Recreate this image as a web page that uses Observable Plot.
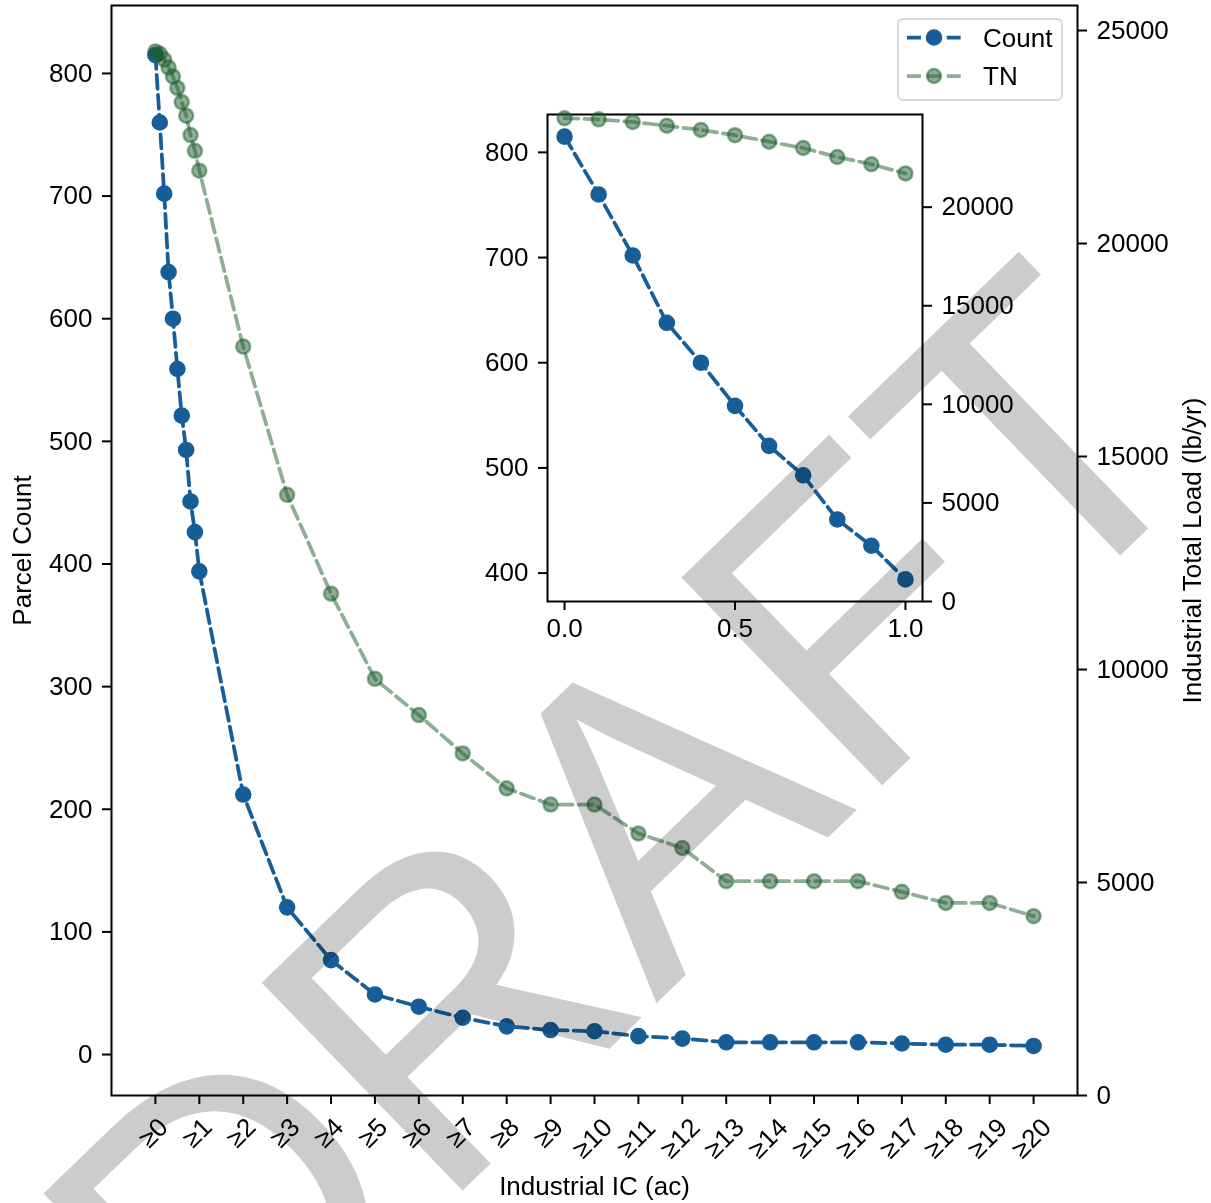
<!DOCTYPE html>
<html>
<head>
<meta charset="utf-8">
<script src="https://cdn.jsdelivr.net/npm/d3@7"></script>
<script src="https://cdn.jsdelivr.net/npm/@observablehq/plot@0.6"></script>
<style>
html, body { margin: 0; padding: 0; background: #fff; }
#chart { position: relative; width: 1211px; height: 1203px; overflow: hidden; background: #fff; isolation: isolate; font-family: "Liberation Sans", Arial, sans-serif; }
#chart > svg, #chart > div.layer { position: absolute; left: 0; top: 0; }
</style>
</head>
<body>
<div id="chart"></div>
<script>
// ---- data ----
const icThresholds = [0, 0.1, 0.2, 0.3, 0.4, 0.5, 0.6, 0.7, 0.8, 0.9, 1.0,
  2, 3, 4, 5, 6, 7, 8, 9, 10, 11, 12, 13, 14, 15, 16, 17, 18, 19, 20];
const parcelCount = [815, 760, 702, 638, 600, 559, 521, 493, 451, 426, 394,
  212, 120, 77, 49, 39, 30, 23, 20, 19, 15, 13, 10, 10, 10, 10, 9, 8, 8, 7];
const tnLoad = [24510, 24455, 24320, 24130, 23920, 23650, 23320, 23000, 22545, 22175, 21710,
  17580, 14100, 11780, 9780, 8930, 8030, 7210, 6830, 6830, 6150, 5810, 5030, 5030, 5030, 5030, 4780, 4520, 4520, 4210];
const xTickValues = [0, 1, 2, 3, 4, 5, 6, 7, 8, 9, 10, 11, 12, 13, 14, 15, 16, 17, 18, 19, 20];
const countTicks = [0, 100, 200, 300, 400, 500, 600, 700, 800];
const tnTicks = [0, 5000, 10000, 15000, 20000, 25000];
const insetXTicks = [0, 0.5, 1.0];
const insetCountTicks = [400, 500, 600, 700, 800];
const insetTnTicks = [0, 5000, 10000, 15000, 20000];
const seriesNames = ["Count", "TN"];
const xLabel = "Industrial IC (ac)";
const yLabelLeft = "Parcel Count";
const yLabelRight = "Industrial Total Load (lb/yr)";
const watermarkText = "DRAFT";

// ---- styles ----
const W = 1211, H = 1203;
const FONT = "'Liberation Sans', Arial, sans-serif";
const BLUE = "#175e99";
const GREEN = "#1b5e2c";
const DASH = "13.9,6";
const rows = icThresholds.map((x, i) => ({x, count: parcelCount[i], tn: tnLoad[i]}));
const insetRows = rows.filter(d => d.x <= 1);

const mainM = {marginLeft: 111, marginRight: 134, marginTop: 5, marginBottom: 108};
const insetM = {marginLeft: 547, marginRight: 289, marginTop: 114, marginBottom: 602};
const baseStyle = {background: "transparent", fontFamily: FONT, fontSize: "26px", color: "black", overflow: "visible"};

const chart = document.getElementById("chart");

// main: parcel count (left axis)
const mainCount = Plot.plot({
  width: W, height: H, ...mainM, style: baseStyle,
  x: {domain: [-1, 21]},
  y: {domain: [-33.4, 855.4]},
  marks: [
    Plot.axisX({ticks: xTickValues, tickSize: 9, strokeWidth: 2, tickFormat: () => "", label: null}),
    Plot.text(xTickValues.filter(d => d < 10), {x: d => d, frameAnchor: "bottom", text: d => "≥" + d, rotate: -45, textAnchor: "middle", lineAnchor: "middle", dy: 37.5, dx: -2, fontSize: 26}),
    Plot.text(xTickValues.filter(d => d >= 10), {x: d => d, frameAnchor: "bottom", text: d => "≥" + d, rotate: -45, textAnchor: "middle", lineAnchor: "middle", dy: 43, dx: -2, fontSize: 26}),
    Plot.axisY({ticks: countTicks, anchor: "left", tickSize: 9, tickPadding: 10, strokeWidth: 2, label: null, tickFormat: d3.format("d")}),
    Plot.text([yLabelLeft], {text: d => d, frameAnchor: "left", rotate: -90, dx: -89, textAnchor: "middle", lineAnchor: "middle", fontSize: 26}),
    Plot.text([xLabel], {text: d => d, frameAnchor: "bottom", dy: 91.5, textAnchor: "middle", lineAnchor: "middle", fontSize: 26}),
    Plot.line(rows, {x: "x", y: "count", stroke: BLUE, strokeWidth: 3.75, strokeDasharray: DASH}),
    Plot.dot(rows, {x: "x", y: "count", r: 7.5, fill: BLUE, stroke: BLUE, strokeWidth: 1.6}),
    Plot.frame({stroke: "black", strokeWidth: 2})
  ]
});
chart.appendChild(mainCount);

// main: TN (right axis)
const mainTN = Plot.plot({
  width: W, height: H, ...mainM, style: baseStyle,
  x: {domain: [-1, 21], axis: null},
  y: {domain: [0, 25587]},
  marks: [
    Plot.axisY({ticks: tnTicks, anchor: "right", tickSize: 9, tickPadding: 10, strokeWidth: 2, label: null, tickFormat: d3.format("d")}),
    Plot.text([yLabelRight], {text: d => d, frameAnchor: "right", rotate: -90, dx: 115, textAnchor: "middle", lineAnchor: "middle", fontSize: 26}),
    Plot.line(rows, {x: "x", y: "tn", stroke: GREEN, strokeOpacity: 0.5, strokeWidth: 3.75, strokeDasharray: DASH}),
    Plot.dot(rows, {x: "x", y: "tn", r: 7, fill: GREEN, fillOpacity: 0.5, stroke: GREEN, strokeOpacity: 0.5, strokeWidth: 2.5})
  ]
});
chart.appendChild(mainTN);

// legend
const leg = d3.create("div").attr("class", "layer")
  .style("left", "897px").style("top", "18px").style("width", "166px").style("height", "83px")
  .style("box-sizing", "border-box").style("border", "2px solid #d9d9d9").style("border-radius", "6px")
  .style("background", "rgba(255,255,255,0.8)");
const legSvg = leg.append("svg").attr("width", 166).attr("height", 83).style("position", "absolute").style("left", "-2px").style("top", "-2px");
[{name: seriesNames[0], color: BLUE, op: 1, y: 19.5}, {name: seriesNames[1], color: GREEN, op: 0.5, y: 58}].forEach(s => {
  legSvg.append("line").attr("x1", 10).attr("x2", 64).attr("y1", s.y).attr("y2", s.y)
    .attr("stroke", s.color).attr("stroke-opacity", s.op).attr("stroke-width", 3.75).attr("stroke-dasharray", DASH);
  legSvg.append("circle").attr("cx", 37).attr("cy", s.y).attr("r", s.op === 1 ? 7.5 : 7)
    .attr("fill", s.color).attr("fill-opacity", s.op).attr("stroke", s.color).attr("stroke-opacity", s.op)
    .attr("stroke-width", s.op === 1 ? 1.6 : 2.5);
  legSvg.append("text").attr("x", 86).attr("y", s.y).attr("dy", "0.35em").attr("font-size", 26)
    .attr("font-family", FONT).attr("fill", "black").text(s.name);
});
chart.appendChild(leg.node());

// inset: count
const insetCount = Plot.plot({
  width: W, height: H, ...insetM, style: baseStyle,
  x: {domain: [-0.05, 1.05]},
  y: {domain: [373, 836]},
  marks: [
    Plot.axisX({ticks: insetXTicks, tickSize: 9, tickPadding: 8, strokeWidth: 2, label: null, tickFormat: d3.format(".1f")}),
    Plot.axisY({ticks: insetCountTicks, anchor: "left", tickSize: 9, tickPadding: 10, strokeWidth: 2, label: null, tickFormat: d3.format("d")}),
    Plot.line(insetRows, {x: "x", y: "count", stroke: BLUE, strokeWidth: 3.75, strokeDasharray: DASH}),
    Plot.dot(insetRows, {x: "x", y: "count", r: 7.5, fill: BLUE, stroke: BLUE, strokeWidth: 1.6}),
    Plot.frame({stroke: "black", strokeWidth: 2})
  ]
});
chart.appendChild(insetCount);

// inset: TN
const insetTN = Plot.plot({
  width: W, height: H, ...insetM, style: baseStyle,
  x: {domain: [-0.05, 1.05], axis: null},
  y: {domain: [0, 24700]},
  marks: [
    Plot.axisY({ticks: insetTnTicks, anchor: "right", tickSize: 9, tickPadding: 10, strokeWidth: 2, label: null, tickFormat: d3.format("d")}),
    Plot.line(insetRows, {x: "x", y: "tn", stroke: GREEN, strokeOpacity: 0.5, strokeWidth: 3.75, strokeDasharray: DASH}),
    Plot.dot(insetRows, {x: "x", y: "tn", r: 7, fill: GREEN, fillOpacity: 0.5, stroke: GREEN, strokeOpacity: 0.5, strokeWidth: 2.5})
  ]
});
chart.appendChild(insetTN);

// watermark (multiplied on top)
const wm = d3.create("svg").attr("width", W).attr("height", H)
  .style("position", "absolute").style("left", 0).style("top", 0)
  .style("mix-blend-mode", "multiply").style("pointer-events", "none");
wm.append("text").attr("transform", "translate(723,939) rotate(-44)")
  .attr("text-anchor", "middle").attr("font-family", FONT).attr("font-size", 420)
  .attr("fill", "#cccccc").text(watermarkText);
chart.appendChild(wm.node());
</script>
</body>
</html>
